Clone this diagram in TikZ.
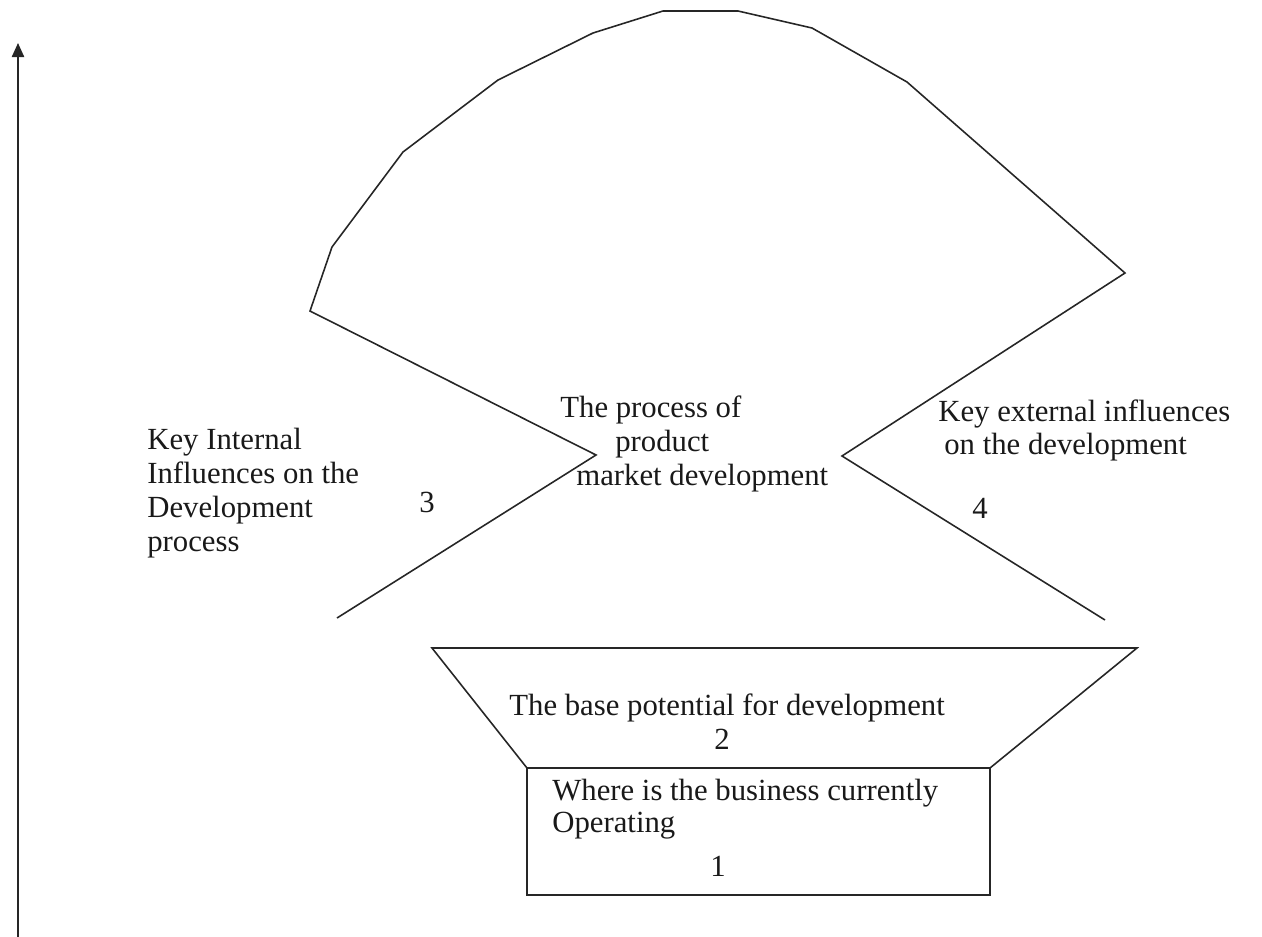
\documentclass[tikz,border=0pt]{standalone}
\usepackage{fontspec}
\setmainfont{Liberation Serif}
\usetikzlibrary{arrows.meta}
\begin{document}
\begin{tikzpicture}[x=0.02cm,y=-0.02cm,
  shape line/.style={draw=black!85, line width=0.9pt, line join=miter},
  lbl/.style={font=\fontsize{17.5}{17.5}\selectfont, inner sep=0pt, text height=0.68em, text depth=0.2em, text=black!90},
  lline/.style={lbl, anchor=west},
  num/.style={lbl}]
\useasboundingbox (0,0) rectangle (1262,937);
% axis
\coordinate (axb) at (18,937);
\coordinate (axt) at (18,43);
\draw[shape line, -{Triangle[width=7pt,length=8pt]}] (axb) -- (axt);
% upper outline
\coordinate (l1) at (337,618);
\coordinate (lv) at (596,455);
\coordinate (l2) at (310,311);
\coordinate (rv) at (842,456);
\coordinate (r1) at (1125,273);
\coordinate (r2) at (1105,620);
\draw[shape line] (l1) -- (lv) -- (l2) -- (332,247) -- (403,152) -- (498,80) -- (593,33) -- (663,11) -- (738,11) -- (812,28) -- (907,82) -- (r1) -- (rv) -- (r2);
% trapezoid and box
\coordinate (tl) at (432,648);
\coordinate (tr) at (1137,648);
\coordinate (bl) at (527,768);
\coordinate (br) at (990,768);
\coordinate (bb) at (990,895);
\draw[shape line] (tl) -- (tr) -- (br) -- (bl) -- cycle;
\draw[shape line] (bl) rectangle (bb);
% texts
\node[lline] (k1) at (147,445) {Key Internal};
\node[lline] (k2) at (147,479) {Influences on the};
\node[lline] (k3) at (147,513) {Development};
\node[lline] (k4) at (147,547) {process};
\node[num] (n3) at (427,508) {3};
\node[lline] (p1) at (560,413) {The process of};
\node[lline] (p2) at (615,447) {product};
\node[lline] (p3) at (576,481) {market development};
\node[lline] (e1) at (938,417) {Key external influences};
\node[lline] (e2) at (944,450) {on the development};
\node[num] (n4) at (980,514) {4};
\node[lline] (b1) at (509,711) {The base potential for development};
\node[num] (n2) at (722,745) {2};
\node[lline] (w1) at (552,796) {Where is the business currently};
\node[lline] (w2) at (552,828) {Operating};
\node[num] (n1) at (718,872) {1};
\end{tikzpicture}
\end{document}
